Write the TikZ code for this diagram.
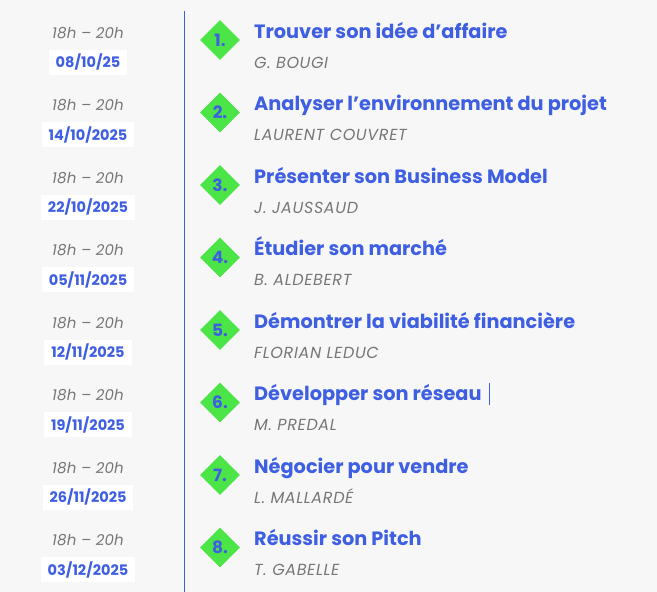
\documentclass[tikz,border=0pt]{standalone}
\usepackage{fontspec}
\setmainfont{Poppins}
\usetikzlibrary{shapes.geometric}
\definecolor{bg}{HTML}{F7F7F7}
\definecolor{tblue}{HTML}{3F5FE3}
\definecolor{dgreen}{HTML}{4BE547}
\definecolor{tgrey}{HTML}{777777}
\tikzset{
  x=1pt,y=-1pt,
  timetxt/.style={font=\fontsize{15}{17}\selectfont\itshape\addfontfeatures{LetterSpace=1}, text=tgrey, inner sep=0pt, anchor=base},
  datebox/.style={fill=white, text=tblue, font=\fontsize{14.5}{16}\selectfont\bfseries, inner xsep=7pt, inner ysep=0pt, minimum height=25pt, anchor=center},
  diam/.style={diamond, fill=dgreen, minimum width=40pt, minimum height=40pt, inner sep=0pt, text=tblue, font=\fontsize{17}{19}\selectfont\bfseries},
  title/.style={font=\fontsize{19.3}{22}\selectfont\bfseries, text=tblue, inner sep=0pt, anchor=base west},
  speaker/.style={font=\fontsize{16}{18}\selectfont\itshape\addfontfeatures{LetterSpace=4}, text=tgrey, inner sep=0pt, anchor=base west},
  vline/.style={draw=tblue, line width=1pt}
}
\begin{document}
\begin{tikzpicture}
\fill[bg] (0,0) rectangle (657,592);
\useasboundingbox (0,0) rectangle (657,592);
\coordinate (ltop) at (184,11);
\coordinate (lbot) at (184,592);
\draw[vline] (ltop) -- (lbot);
\foreach \i/\dt/\ti/\sp in {
  1/08\slash 10\slash 25/Trouver son idée d’affaire/G. BOUGI,
  2/14\slash 10\slash 2025/Analyser l’environnement du projet/LAURENT COUVRET,
  3/22\slash 10\slash 2025/Présenter son Business Model/J. JAUSSAUD,
  4/05\slash 11\slash 2025/Étudier son marché/B. ALDEBERT,
  5/12\slash 11\slash 2025/Démontrer la viabilité financière/FLORIAN LEDUC,
  6/19\slash 11\slash 2025/Développer son réseau/M. PREDAL,
  7/26\slash 11\slash 2025/Négocier pour vendre/L. MALLARDÉ,
  8/03\slash 12\slash 2025/Réussir son Pitch/T. GABELLE}{
  \pgfmathsetmacro{\yy}{72.5*(\i-1)}
  \node[timetxt] (time\i) at (88,{38.3+\yy}) {18h – 20h};
  \node[datebox] (date\i) at (88,{62+\yy}) {\dt};
  \node[diam] (dia\i) at (220,{40+\yy}) {\raisebox{-2pt}{\i.}};
  \node[title] (tit\i) at (254,{38+\yy}) {\ti};
  \node[speaker] (spk\i) at (254,{68+\yy}) {\sp};
}
\coordinate (cur1) at (489,383);
\coordinate (cur2) at (489,405);
\draw[tblue, line width=0.8pt] (cur1) -- (cur2);
\end{tikzpicture}
\end{document}
